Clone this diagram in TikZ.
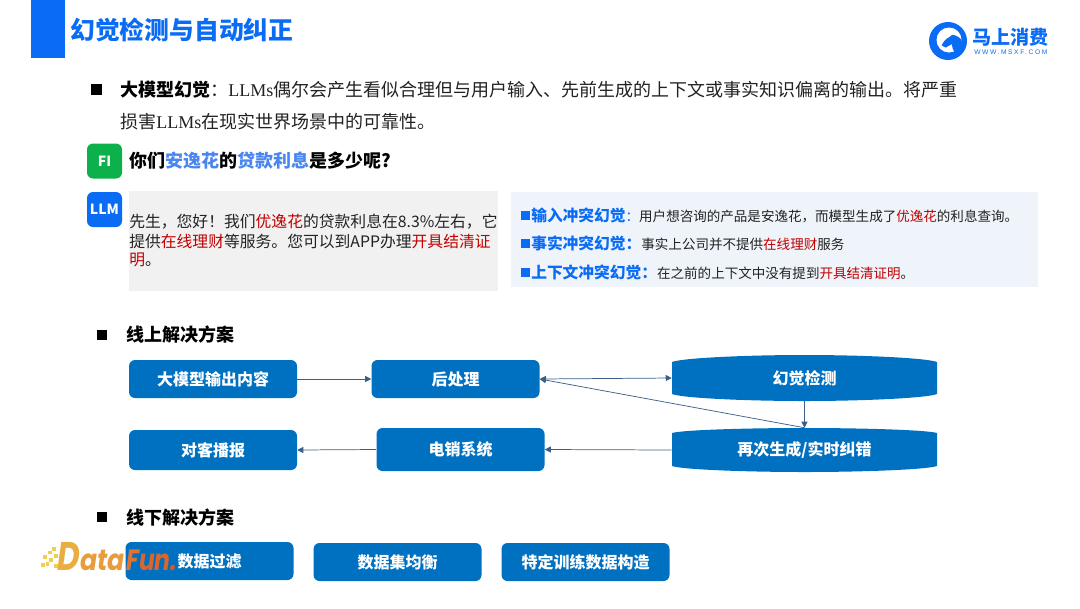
\documentclass[tikz,border=0pt]{standalone}
\usepackage{fontspec}
\usetikzlibrary{arrows.meta}
\setmainfont{Noto Sans CJK SC}
\newfontfamily\serifl{Liberation Serif}
\newfontfamily\logolat[LetterSpace=24]{Liberation Sans}
\newfontfamily\dfont{Poppins}
\definecolor{brand}{HTML}{0A6CF5}
\definecolor{bluebox}{HTML}{0070C0}
\definecolor{linkc}{HTML}{3B5F8A}
\definecolor{qblue}{HTML}{4A86F0}
\definecolor{redt}{HTML}{C00000}
\definecolor{grayb}{HTML}{F1F1F1}
\definecolor{lightb}{HTML}{EEF4FA}
\definecolor{labelb}{HTML}{0A6CF5}
\definecolor{bodyt}{HTML}{222222}
\definecolor{figreen}{HTML}{0DB14B}
\definecolor{dotyl}{HTML}{F2CE4F}
\newcommand{\fsz}[1]{\fontsize{#1}{#1}\selectfont}
\newcommand{\rd}[1]{\textcolor{redt}{#1}}
\newcommand{\qb}[1]{\textcolor{qblue}{#1}}
\newcommand{\lb}[1]{\textcolor{labelb}{\fsz{11.8}\bfseries #1}}
\tikzset{
  txt/.style={anchor=west,inner sep=0pt,text=bodyt},
  body/.style={txt,font=\fsz{13.5}},
  chat/.style={txt,font=\fsz{11.85}},
  note/.style={txt,font=\fsz{10.15}},
  head/.style={txt,text=black,font=\fsz{13.5}\bfseries},
  sq/.style={fill=#1,inner sep=0pt,draw=none},
  flow/.style={fill=bluebox,rounded corners=4.5pt,text=white,font=\fsz{12}\bfseries,minimum width=126pt,minimum height=#1,inner sep=0pt},
  flow/.default=28.5pt,
  drum/.style={text=white,font=\fsz{12}\bfseries,minimum width=198.75pt,minimum height=#1,inner sep=0pt},
  badge/.style={fill=#1,rounded corners=4.5pt,text=white,font=\fsz{10.5}\bfseries,minimum width=26.25pt,minimum height=26.25pt,inner sep=0pt},
  link/.style={draw=linkc,line width=0.55pt},
  tip/.style={-{Triangle[length=4.5pt,width=4.5pt,fill=linkc]}},
  tips/.style={{Triangle[length=4.5pt,width=4.5pt,fill=linkc]}-{Triangle[length=4.5pt,width=4.5pt,fill=linkc]}},
  dot/.style={fill=#1,inner sep=0pt,minimum size=2.6pt,draw=none},
  dfun/.style={anchor=base west,inner sep=0pt,font=\dfont\fsz{22}\bfseries\itshape}
}
\begin{document}
\begin{tikzpicture}[x=0.75pt,y=-0.75pt]
\useasboundingbox (0,0) rectangle (1080,608);
% header
\fill[brand] (31,0) rectangle (65,58);
\node[txt,text=brand,font=\fsz{18.6}\bfseries] (title) at (70,30) {幻觉检测与自动纠正};
% logo
\fill[brand] (948,41) circle (19);
\fill[white] (949,40) circle (12.5);
\fill[brand] (941.7,45.6) .. controls (943,42) and (946,38.5) .. (949,37.3) -- (952.3,34.8) .. controls (955,35) and (959,36.5) .. (961.5,40) -- (962,50) -- (955,53) .. controls (953,50) and (952,47) .. (951.7,44) -- (946,47.5) -- cycle;
\node[txt,text=brand,font=\fsz{14.3}\bfseries] (logotxt) at (972,37) {马上消费};
\node[txt,text=brand,font=\logolat\fsz{5}] (logourl) at (974,52) {WWW.MSXF.COM};
% intro
\node[sq=black,minimum size=8.25pt] (b1) at (96.5,89) {};
\node[body] (l1) at (120,89.5) {\textbf{\textcolor{black}{大模型幻觉}}：{\serifl LLMs}偶尔会产生看似合理但与用户输入、先前生成的上下文或事实知识偏离的输出。将严重};
\node[body] (l2) at (120,121.5) {损害{\serifl LLMs}在现实世界场景中的可靠性。};
% question
\node[badge=figreen] (fi) at (104.5,161) {FI};
\node[txt,text=black,font=\fsz{13.5}\bfseries] (q) at (129,161) {你们\qb{安逸花}的\qb{贷款利息}是多少呢?};
% answer
\node[badge=brand] (llm) at (104.5,209.5) {LLM};
\fill[grayb] (129,191) rectangle (498,291);
\node[chat] (a1) at (129,222) {先生，您好！我们\rd{优逸花}的贷款利息在8.3\%左右，它};
\node[chat] (a2) at (129,241) {提供\rd{在线理财}等服务。您可以到APP办理\rd{开具结清证}};
\node[chat] (a3) at (129,260) {\rd{明}。};
% notes
\fill[lightb] (511,192) rectangle (1038,287);
\node[sq=labelb,minimum size=6.75pt] (n1s) at (525,215) {};
\node[note] (n1) at (531,215) {\lb{输入冲突幻觉}\textcolor{labelb}{：}用户想咨询的产品是安逸花，而模型生成了\rd{优逸花}的利息查询。};
\node[sq=labelb,minimum size=6.75pt] (n2s) at (525,243) {};
\node[note] (n2) at (531,243) {\lb{事实冲突幻觉：}事实上公司并不提供\rd{在线理财}服务};
\node[sq=labelb,minimum size=6.75pt] (n3s) at (525,272) {};
\node[note] (n3) at (531,272) {\lb{上下文冲突幻觉：}在之前的上下文中没有提到\rd{开具结清证明}。};
% online
\node[sq=black,minimum size=7.5pt] (s1b) at (102,335) {};
\node[head] (s1) at (126,335) {线上解决方案};
\fill[bluebox] (672,362) .. controls (682,358) and (745,355) .. (804.5,355) .. controls (864,355) and (927,358) .. (937,362) -- (937,394) .. controls (927,398) and (864,401) .. (804.5,401) .. controls (745,401) and (682,398) .. (672,394) -- cycle;
\fill[bluebox] (672,433) .. controls (682,430) and (745,428) .. (804.5,428) .. controls (864,428) and (927,430) .. (937,433) -- (937,466) .. controls (927,469.5) and (864,472) .. (804.5,472) .. controls (745,472) and (682,469.5) .. (672,466) -- cycle;
\node[flow] (out) at (213,379) {大模型输出内容};
\node[flow] (post) at (455.5,379) {后处理};
\node[drum=34.5pt] (det) at (804.5,378) {\raisebox{0.6pt}{幻觉检测}};
\node[drum=33pt] (regen) at (804.5,450) {\raisebox{-1.6pt}{再次生成/实时纠错}};
\node[flow=32.25pt] (sales) at (460.5,449.5) {电销系统};
\node[flow=30pt] (say) at (213,450) {对客播报};
\draw[link,tip] (out) -- (post);
\draw[link,tips] (post.east) -- (det.west);
\draw[link,tip] (det.south) -- (regen.north);
\draw[link,tip] (regen.north) -- (post.east);
\draw[link,tip] (regen.west) -- (sales.east);
\draw[link,tip] (sales.west) -- (say.east);
% offline
\node[sq=black,minimum size=7.5pt] (s2b) at (102,517) {};
\node[head] (s2) at (126,518) {线下解决方案};
\node[flow] (f1) at (209.5,561) {数据过滤};
\node[flow] (f2) at (397.5,562) {数据集均衡};
\node[flow] (f3) at (585.5,562) {特定训练数据构造};
% DataFun logo
\foreach \n/\px/\py in {d1/54/549,d2/50/552.5,d3/56/556,d4/45/557,d5/51/560,d6/43/565,d7/56/566,d8/47.5/564}{
  \node[dot=dotyl] (\n) at (\px,\py) {};
}
\node[dfun,font=\dfont\fsz{30}\bfseries\itshape] (dd) at (57,570) {\scalebox{0.78}[1]{\textcolor[HTML]{E9AE3F}{D}}};
\node[dfun] (dA) at (80,570) {\scalebox{0.86}[1]{\textcolor[HTML]{E89C3C}{ata}}};
\node[dfun] (dF) at (126,570) {\scalebox{0.8}[1]{\textcolor[HTML]{E07232}{F}\textcolor[HTML]{DC642D}{un}}};
\node[dfun] (dP) at (170,570) {\scalebox{0.8}[1]{\textcolor[HTML]{D9582A}{.}}};
\end{tikzpicture}
\end{document}
